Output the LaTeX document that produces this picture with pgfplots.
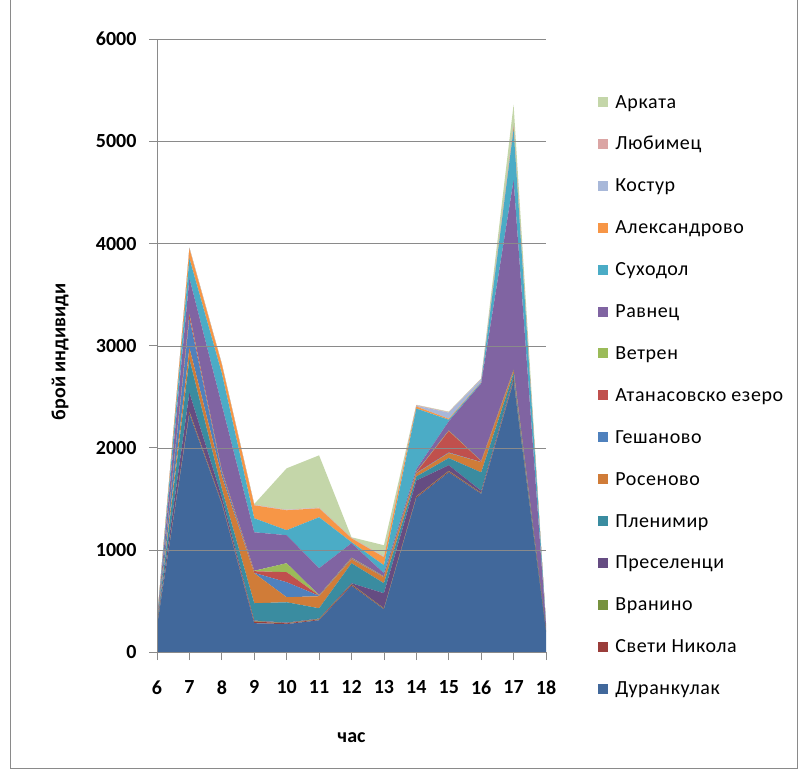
\documentclass[border=0pt]{standalone}
\usepackage{fontspec}
\setmainfont{Carlito}
\usepackage{pgfplots}
\usepackage{pgfplotstable}
\pgfplotsset{compat=1.18}

\definecolor{axisgray}{HTML}{8A8A8A}
\definecolor{cD}{HTML}{41689B}
\definecolor{cSN}{HTML}{9A3D3A}
\definecolor{cVr}{HTML}{77923F}
\definecolor{cPr}{HTML}{654C82}
\definecolor{cPl}{HTML}{3A8CA0}
\definecolor{cRo}{HTML}{D07C38}
\definecolor{cGe}{HTML}{4F81BD}
\definecolor{cAt}{HTML}{C0504D}
\definecolor{cVe}{HTML}{9BBB59}
\definecolor{cRa}{HTML}{8064A2}
\definecolor{cSu}{HTML}{4BACC6}
\definecolor{cAl}{HTML}{F79646}
\definecolor{cKo}{HTML}{A8B8D9}
\definecolor{cLu}{HTML}{DBA5A4}
\definecolor{cAr}{HTML}{C4D6A9}

% individuals per hour and per site (stacked)
\pgfplotstableread{
h  D    SN Vr Pr  Pl  Ro  Ge  At  Ve Ra   Su  Al  Ko Lu Ar
6  250  5  3  7   7   6   4   3   3  12   10  5   3  2  2
7  2330 15 10 185 330 110 285 35  10 350  195 95  5  3  4
8  1450 10 5  55  80  120 40  15  5  640  310 85  3  3  4
9  284  16 5  5   169 294 3   17  4  377  137 127 3  3  6
10 275  7  3  5   199 49  147 98  88 274  49  195 3  3  405
11 313  7  5  5   100 118 4   3   3  264  499 88  3  3  512
12 650  10 5  10  196 39  5   5   5  142  10  38  3  2  5
13 420  5  5  147 98  59  3   3   3  30   78  79  5  3  109
14 1510 10 5  155 40  30  5   5   5  25   595 20  7  6  4
15 1760 10 5  55  70  50  5   210 5  90   15  10  60 5  5
16 1550 5  5  20  180 100 2   8   2  758  10  5   25 5  5
17 2650 10 10 20  40  20  5   5   5  1855 500 20  10 10 200
18 200  2  2  2   4   2   1   1   1  55   10  2   2  1  2
}\datatable

\newcommand{\lbl}{\fontsize{20}{24}\selectfont}

\begin{document}
\begin{tikzpicture}
\path (0pt,0pt) rectangle (805pt,773pt);
\draw[axisgray] (10pt,773pt) -- (10pt,5pt) -- (797pt,5pt) -- (797pt,773pt);
\begin{axis}[
  at={(157pt,121pt)}, anchor=south west,
  width=389pt, height=613pt, scale only axis,
  xmin=6, xmax=18, ymin=0, ymax=6000,
  xtick={6,...,18}, ytick={0,1000,...,6000},
  axis x line*=bottom, axis y line*=left,
  axis line style={draw=axisgray},
  tick style={draw=axisgray, line width=0.8pt},
  major tick length=8pt,
  tick align=outside,
  ymajorgrids, grid style={draw=axisgray},
  /pgf/number format/assume math mode=true,
  /pgf/number format/1000 sep={},
  ticklabel style={font=\lbl\bfseries},
  xticklabel style={yshift=-17pt},
  yticklabel style={xshift=-9pt},
  xlabel={час}, ylabel={брой индивиди},
  every axis x label/.style={at={(axis description cs:0.5,0)}, anchor=center, yshift=-85pt, font=\lbl\bfseries},
  every axis y label/.style={at={(axis description cs:-0.2494,0.49)}, anchor=center, rotate=90, font=\lbl\bfseries},
  stack plots=y, area style,
  legend image code/.code={\fill[#1] (0pt,-5pt) rectangle (10pt,5pt);},
  reverse legend,
  legend cell align=left,
  legend style={draw=none, fill=none, inner sep=0pt,
    at={(1.134,0.419)}, anchor=west, font=\lbl\addfontfeature{LetterSpace=3},
    row sep=25.9pt,
    nodes={inner sep=0pt, text height=14pt, text depth=2pt},
    /tikz/every odd column/.append style={column sep=7pt}},
]
\addplot[fill=cD, draw=none] table[x=h, y=D] {\datatable} \closedcycle;
\addplot[fill=cSN, draw=none] table[x=h, y=SN] {\datatable} \closedcycle;
\addplot[fill=cVr, draw=none] table[x=h, y=Vr] {\datatable} \closedcycle;
\addplot[fill=cPr, draw=none] table[x=h, y=Pr] {\datatable} \closedcycle;
\addplot[fill=cPl, draw=none] table[x=h, y=Pl] {\datatable} \closedcycle;
\addplot[fill=cRo, draw=none] table[x=h, y=Ro] {\datatable} \closedcycle;
\addplot[fill=cGe, draw=none] table[x=h, y=Ge] {\datatable} \closedcycle;
\addplot[fill=cAt, draw=none] table[x=h, y=At] {\datatable} \closedcycle;
\addplot[fill=cVe, draw=none] table[x=h, y=Ve] {\datatable} \closedcycle;
\addplot[fill=cRa, draw=none] table[x=h, y=Ra] {\datatable} \closedcycle;
\addplot[fill=cSu, draw=none] table[x=h, y=Su] {\datatable} \closedcycle;
\addplot[fill=cAl, draw=none] table[x=h, y=Al] {\datatable} \closedcycle;
\addplot[fill=cKo, draw=none] table[x=h, y=Ko] {\datatable} \closedcycle;
\addplot[fill=cLu, draw=none] table[x=h, y=Lu] {\datatable} \closedcycle;
\addplot[fill=cAr, draw=none] table[x=h, y=Ar] {\datatable} \closedcycle;
\legend{Дуранкулак, Свети Никола, Вранино, Преселенци, Пленимир, Росеново,
  Гешаново, Атанасовско езеро, Ветрен, Равнец, Суходол, Александрово,
  Костур, Любимец, Арката}
\end{axis}
\end{tikzpicture}
\end{document}
